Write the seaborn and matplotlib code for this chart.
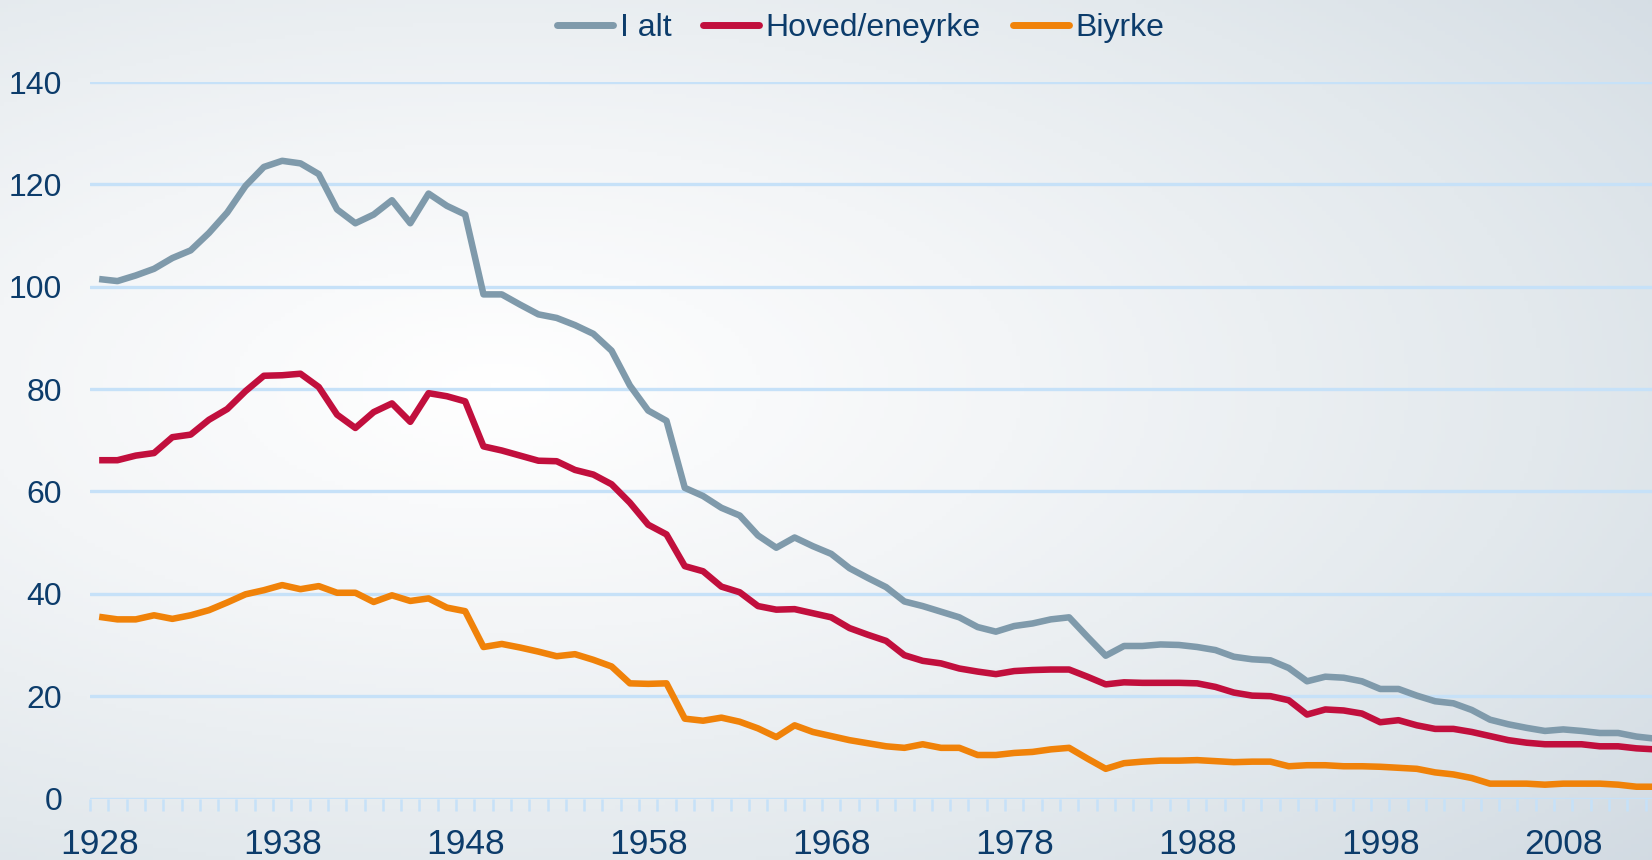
import numpy as np
import pandas as pd
import matplotlib
matplotlib.use("Agg")
import matplotlib.pyplot as plt
from matplotlib.colors import LinearSegmentedColormap
from matplotlib.lines import Line2D
from matplotlib.ticker import FixedLocator
import seaborn as sns

years = list(range(1928, 2014))

i_alt = [101.5, 101.1, 102.2, 103.5, 105.6, 107.1, 110.5, 114.5, 119.7, 123.4,
         124.6, 124.1, 122.0, 115.1, 112.4, 114.1, 116.9, 112.4, 118.2, 115.8,
         114.1, 98.5, 98.5, 96.5, 94.6, 93.9, 92.5, 90.8, 87.5, 80.7,
         75.8, 73.8, 60.7, 59.1, 56.8, 55.3, 51.4, 49.0, 51.0, 49.3,
         47.8, 45.0, 43.1, 41.3, 38.5, 37.6, 36.5, 35.4, 33.5, 32.6,
         33.7, 34.2, 35.0, 35.4, 31.6, 27.9, 29.8, 29.8, 30.1, 30.0,
         29.6, 29.0, 27.7, 27.2, 27.0, 25.5, 22.9, 23.8, 23.6, 22.9,
         21.4, 21.4, 20.1, 19.0, 18.6, 17.3, 15.4, 14.5, 13.8, 13.2,
         13.5, 13.2, 12.8, 12.8, 12.1, 11.7]

hoved = [66.1, 66.1, 67.0, 67.5, 70.6, 71.1, 74.0, 76.1, 79.6, 82.6,
         82.7, 83.0, 80.4, 75.0, 72.4, 75.5, 77.2, 73.6, 79.2, 78.6,
         77.6, 68.8, 68.0, 67.0, 66.0, 65.9, 64.2, 63.3, 61.4, 57.8,
         53.5, 51.6, 45.4, 44.4, 41.4, 40.3, 37.6, 36.9, 37.0, 36.2,
         35.4, 33.3, 32.0, 30.8, 28.0, 26.9, 26.4, 25.4, 24.8, 24.3,
         24.9, 25.1, 25.2, 25.2, 23.8, 22.3, 22.7, 22.6, 22.6, 22.6,
         22.5, 21.8, 20.7, 20.1, 20.0, 19.2, 16.4, 17.4, 17.2, 16.6,
         14.9, 15.3, 14.3, 13.6, 13.6, 13.0, 12.2, 11.4, 10.9, 10.6,
         10.6, 10.6, 10.2, 10.2, 9.8, 9.6]

biyrke = [35.5, 35.0, 35.0, 35.8, 35.1, 35.8, 36.8, 38.3, 39.9, 40.7,
          41.7, 40.9, 41.5, 40.2, 40.2, 38.4, 39.7, 38.6, 39.1, 37.3,
          36.6, 29.6, 30.2, 29.5, 28.7, 27.8, 28.2, 27.1, 25.8, 22.5,
          22.4, 22.5, 15.6, 15.2, 15.8, 15.0, 13.7, 12.0, 14.3, 13.0,
          12.2, 11.4, 10.8, 10.2, 9.9, 10.6, 9.9, 9.9, 8.5, 8.5,
          8.9, 9.1, 9.6, 9.9, 7.8, 5.8, 6.9, 7.2, 7.4, 7.4,
          7.5, 7.3, 7.1, 7.2, 7.2, 6.3, 6.5, 6.5, 6.3, 6.3,
          6.2, 6.0, 5.8, 5.1, 4.7, 4.0, 2.9, 2.9, 2.9, 2.7,
          2.9, 2.9, 2.9, 2.7, 2.3, 2.3]

series_names = ["I alt", "Hoved/eneyrke", "Biyrke"]
colors = ["#7f9aab", "#c10f3d", "#f08209"]
x_tick_labels = [1928, 1938, 1948, 1958, 1968, 1978, 1988, 1998, 2008]
y_ticks = [0, 20, 40, 60, 80, 100, 120, 140]

df = pd.DataFrame({
    "year": years * 3,
    "value": i_alt + hoved + biyrke,
    "series": [series_names[0]] * len(years) + [series_names[1]] * len(years)
              + [series_names[2]] * len(years),
})

sns.set_theme(style="white")
plt.rcParams["font.family"] = ["Liberation Sans", "DejaVu Sans"]

W, H = 1652, 860
fig = plt.figure(figsize=(W / 100, H / 100), dpi=100)

# background gradient
bg_ax = fig.add_axes([0, 0, 1, 1], zorder=-10)
gx, gy = np.meshgrid(np.linspace(0, 1, 400), np.linspace(0, 1, 220))
d = np.sqrt(((gx - 0.30) / 0.95) ** 2 + ((gy - 0.45) / 0.85) ** 2)
d = np.clip(d, 0, 1)
cmap = LinearSegmentedColormap.from_list("bg", ["#ffffff", "#f3f5f7", "#e3e9ed", "#d1dae2"])
bg_ax.imshow(d, cmap=cmap, aspect="auto", extent=[0, 1, 0, 1], origin="upper", vmin=0, vmax=1)
bg_ax.set_axis_off()

left = 90 / W
bottom = 1 - 798.5 / H
top = 1 - 82 / H
ax = fig.add_axes([left, bottom, 1 - left, top - bottom])
ax.patch.set_alpha(0)

sns.lineplot(data=df, x="year", y="value", hue="series", hue_order=series_names,
             palette=colors, linewidth=4.7, ax=ax, legend=False, zorder=3)
for ln in ax.get_lines():
    ln.set_solid_joinstyle("round")
    ln.set_solid_capstyle("butt")

ax.set_xlim(1927.5, 2012.85)
ax.set_ylim(0, 140)
for s in ax.spines.values():
    s.set_visible(False)

grid_col = "#c6e1f8"
for yv in y_ticks:
    ax.axhline(yv, color=grid_col, linewidth=2.4, zorder=1)

text_col = "#0c3c6b"
ax.set_yticks(y_ticks)
ax.set_yticklabels([str(v) for v in y_ticks])
ax.tick_params(axis="y", length=0, pad=20, labelsize=23, labelcolor=text_col)

ax.set_xticks(x_tick_labels)
ax.set_xticklabels([str(v) for v in x_tick_labels])
ax.xaxis.set_minor_locator(FixedLocator([y - 0.5 for y in years] + [years[-1] + 0.5]))
ax.tick_params(axis="x", which="major", length=0, pad=21, labelsize=25.5, labelcolor=text_col)
ax.tick_params(axis="x", which="minor", length=8.5, width=1.8, color=grid_col, direction="out", bottom=True)
ax.set_xlabel("")
ax.set_ylabel("")

handles = [Line2D([0], [0], color=c, linewidth=5, solid_capstyle="round") for c in colors]
leg = fig.legend(handles, series_names, loc="center", bbox_to_anchor=(0.521, 0.967),
                 ncol=3, frameon=False, fontsize=23, handlelength=1.75,
                 handletextpad=0.2, columnspacing=1.0)
for t in leg.get_texts():
    t.set_color(text_col)

fig.savefig("out.png", dpi=100)
